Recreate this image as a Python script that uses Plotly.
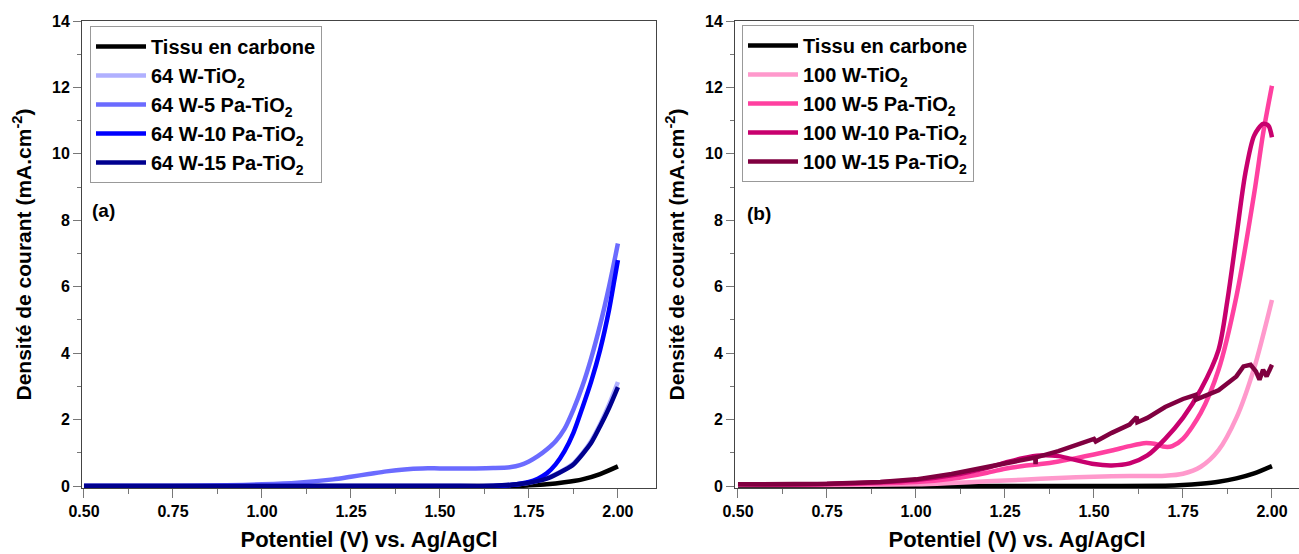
import plotly.graph_objects as go

# ---------------- Panel (a) data ----------------
A_CARBON_X = [0.5, 1.0, 1.5, 1.7, 1.75, 1.8, 1.85, 1.9, 1.95, 2.0]
A_CARBON_Y = [0, 0, 0, 0, 0.02, 0.05, 0.11, 0.2, 0.36, 0.59]

A_64W_X = [0.5, 1.0, 1.5, 1.65, 1.7, 1.75, 1.8, 1.85, 1.875, 1.9, 1.925, 1.95, 1.975, 2.0]
A_64W_Y = [0, 0, 0, 0.01, 0.04, 0.1, 0.24, 0.5, 0.68, 0.98, 1.36, 1.86, 2.45, 3.13]
A_64W15_Y = [0, 0, 0, 0.01, 0.04, 0.1, 0.22, 0.48, 0.65, 0.95, 1.3, 1.8, 2.35, 2.98]

A_5PA_X = [0.5, 0.75, 0.9, 1.0, 1.1, 1.2, 1.25, 1.3, 1.35, 1.4, 1.45, 1.5, 1.6, 1.65, 1.7,
           1.725, 1.75, 1.775, 1.8, 1.825, 1.85, 1.875, 1.9, 1.925, 1.95, 1.975, 2.0]
A_5PA_Y = [0, 0, 0.02, 0.05, 0.1, 0.2, 0.28, 0.36, 0.44, 0.5, 0.53, 0.53, 0.53, 0.54, 0.57,
           0.63, 0.74, 0.9, 1.1, 1.35, 1.72, 2.3, 3.0, 3.85, 4.85, 6.0, 7.3]

A_10PA_X = [0.5, 1.0, 1.5, 1.65, 1.7, 1.75, 1.775, 1.8, 1.825, 1.85, 1.875, 1.9, 1.925, 1.95, 1.975, 1.99, 2.0]
A_10PA_Y = [0, 0, 0, 0.0, 0.03, 0.12, 0.22, 0.38, 0.65, 1.05, 1.6, 2.35, 3.15, 4.1, 5.3, 6.2, 6.8]

# ---------------- Panel (b) data ----------------
B_CARBON_X = [0.5, 1.0, 1.5, 1.7, 1.75, 1.8, 1.85, 1.9, 1.95, 2.0]
B_CARBON_Y = [0, 0, 0, 0.01, 0.03, 0.07, 0.13, 0.23, 0.38, 0.6]

B_100W_X = [0.5, 0.75, 1.0, 1.1, 1.2, 1.3, 1.4, 1.5, 1.6, 1.7, 1.75, 1.8, 1.85, 1.9, 1.95, 2.0]
B_100W_Y = [0.03, 0.03, 0.05, 0.09, 0.14, 0.19, 0.24, 0.28, 0.3, 0.31, 0.37, 0.58, 1.08, 2.05, 3.55, 5.6]

B_5PA_X = [0.5, 0.75, 1.0, 1.1, 1.2, 1.25, 1.3, 1.35, 1.4, 1.45, 1.5, 1.55, 1.6, 1.64, 1.67,
           1.7, 1.72, 1.75, 1.8, 1.85, 1.9, 1.95, 1.975, 2.0]
B_5PA_Y = [0.05, 0.05, 0.12, 0.22, 0.4, 0.52, 0.6, 0.66, 0.74, 0.84, 0.95, 1.07, 1.2, 1.29, 1.27,
           1.18, 1.2, 1.42, 2.2, 3.5, 5.7, 8.8, 10.6, 12.05]

B_10PA_X = [0.5, 0.75, 1.0, 1.1, 1.2, 1.25, 1.3, 1.35, 1.4, 1.45, 1.5, 1.55, 1.6, 1.65, 1.7,
            1.75, 1.8, 1.85, 1.875, 1.9, 1.925, 1.95, 1.975, 1.99, 2.0]
B_10PA_Y = [0.05, 0.06, 0.18, 0.32, 0.55, 0.7, 0.84, 0.92, 0.9, 0.78, 0.66, 0.62, 0.68, 0.92, 1.42,
            2.05, 2.9, 4.1, 5.6, 7.5, 9.4, 10.55, 10.9, 10.85, 10.5]

B_15PA_X = [0.5, 0.75, 0.9, 1.0, 1.1, 1.2, 1.25, 1.3, 1.335, 1.336, 1.337, 1.4, 1.45, 1.5, 1.505,
            1.55, 1.6, 1.62, 1.622, 1.65, 1.7, 1.75, 1.785, 1.787, 1.8, 1.85, 1.9, 1.92, 1.94,
            1.955, 1.965, 1.975, 1.985, 2.0]
B_15PA_Y = [0.05, 0.07, 0.12, 0.2, 0.36, 0.58, 0.7, 0.8, 0.86, 0.66, 0.86, 1.05, 1.22, 1.42, 1.34,
            1.6, 1.85, 2.08, 1.92, 2.05, 2.38, 2.62, 2.74, 2.6, 2.66, 2.88, 3.3, 3.6, 3.65,
            3.45, 3.2, 3.5, 3.3, 3.65]

A_NAMES = ["Tissu en carbone", "64 W-TiO<sub>2</sub>", "64 W-5 Pa-TiO<sub>2</sub>",
           "64 W-10 Pa-TiO<sub>2</sub>", "64 W-15 Pa-TiO<sub>2</sub>"]
B_NAMES = ["Tissu en carbone", "100 W-TiO<sub>2</sub>", "100 W-5 Pa-TiO<sub>2</sub>",
           "100 W-10 Pa-TiO<sub>2</sub>", "100 W-15 Pa-TiO<sub>2</sub>"]
A_COLORS = ["#000000", "#b0b0ff", "#6b6bff", "#0000ff", "#00008f"]
B_COLORS = ["#000000", "#ff99cc", "#ff40a0", "#c8006e", "#800040"]

A_SERIES = [(A_CARBON_X, A_CARBON_Y), (A_64W_X, A_64W_Y), (A_5PA_X, A_5PA_Y),
            (A_10PA_X, A_10PA_Y), (A_64W_X, A_64W15_Y)]
B_SERIES = [(B_CARBON_X, B_CARBON_Y), (B_100W_X, B_100W_Y), (B_5PA_X, B_5PA_Y),
            (B_10PA_X, B_10PA_Y), (B_15PA_X, B_15PA_Y)]

X_TICKS = [0.5, 0.75, 1.0, 1.25, 1.5, 1.75, 2.0]
X_TICKTEXT = ["0.50", "0.75", "1.00", "1.25", "1.50", "1.75", "2.00"]
Y_TICKS = [0, 2, 4, 6, 8, 10, 12, 14]

FONT = "Liberation Sans, Arial, sans-serif"

fig = go.Figure()
for i, ((xs, ys), name, col) in enumerate(zip(A_SERIES, A_NAMES, A_COLORS)):
    fig.add_trace(go.Scatter(x=xs, y=ys, mode="lines", name="<b>" + name + "</b>",
                             line=dict(color=col, width=4.5, shape="spline", smoothing=0.8),
                             xaxis="x", yaxis="y", legend="legend", legendgroup="a%d" % i))
for i, ((xs, ys), name, col) in enumerate(zip(B_SERIES, B_NAMES, B_COLORS)):
    shape = "linear" if i == 4 else "spline"
    fig.add_trace(go.Scatter(x=xs, y=ys, mode="lines", name="<b>" + name + "</b>",
                             line=dict(color=col, width=4.5, shape=shape, smoothing=0.8),
                             xaxis="x2", yaxis="y2", legend="legend2", legendgroup="b%d" % i))

W, H = 1299, 554
def px_x(p):
    return p / W
def px_y(p):
    return (H - p) / H

axis_common = dict(showline=True, linecolor="#444444", linewidth=1, showgrid=False, zeroline=False,
                   ticks="outside", tickcolor="#777777", tickwidth=1, automargin=False,
                   tickfont=dict(family=FONT, size=16, color="#000000", weight="bold"))
xa = dict(axis_common, tickvals=X_TICKS, ticktext=X_TICKTEXT, ticklen=9,
          minor=dict(dtick=0.125, ticks="outside", ticklen=5, tickcolor="#777777"),
          title=dict(text="<b>Potentiel (V) vs. Ag/AgCl</b>", font=dict(family=FONT, size=22, color="#000"),
                     standoff=12))
ya = dict(axis_common, tickvals=Y_TICKS, ticklen=8, range=[-0.06, 14],
          minor=dict(dtick=1, ticks="outside", ticklen=4, tickcolor="#777777"),
          title=dict(text="<b>Densité de courant (mA.cm<sup>-2</sup>)</b>",
                     font=dict(family=FONT, size=21, color="#000"), standoff=14))

legend_common = dict(bgcolor="rgba(255,255,255,1)", bordercolor="#999999", borderwidth=1,
                     font=dict(family=FONT, size=20, color="#000"), tracegroupgap=0,
                     xanchor="left", yanchor="top", itemwidth=50)

fig.update_layout(
    width=W, height=H, margin=dict(l=0, r=0, t=0, b=0, autoexpand=False),
    plot_bgcolor="white", paper_bgcolor="white",
    xaxis=dict(xa, domain=[px_x(82), px_x(656)], range=[0.4944, 2.107], mirror=True, anchor="y"),
    yaxis=dict(ya, domain=[px_y(488), px_y(21)], mirror=True, anchor="x"),
    xaxis2=dict(xa, domain=[px_x(735), 1.0], range=[0.4916, 2.076], mirror=True, anchor="y2"),
    yaxis2=dict(ya, domain=[px_y(488), px_y(21)], mirror=False, anchor="x2"),
    legend=dict(legend_common, x=px_x(90), y=px_y(26)),
    legend2=dict(legend_common, x=px_x(742), y=px_y(25)),
    annotations=[
        dict(text="<b>(a)</b>", x=px_x(90), y=px_y(211), xref="paper", yref="paper",
             xanchor="left", yanchor="middle", showarrow=False,
             font=dict(family=FONT, size=19, color="#000")),
        dict(text="<b>(b)</b>", x=px_x(745), y=px_y(213), xref="paper", yref="paper",
             xanchor="left", yanchor="middle", showarrow=False,
             font=dict(family=FONT, size=19, color="#000")),
    ],
)

fig.write_html("out.html", config={"displayModeBar": False},
               post_script="document.body.style.margin='0px';")
